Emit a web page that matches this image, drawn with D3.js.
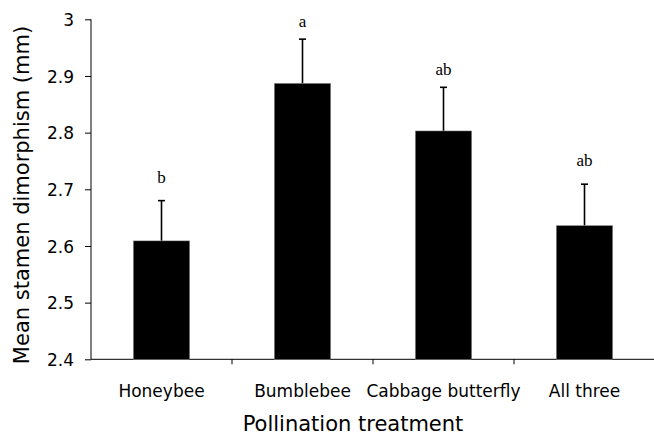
<!DOCTYPE html>
<html>
<head>
<meta charset="utf-8">
<script src="https://cdn.jsdelivr.net/npm/d3@7"></script>
<style>
  body { margin: 0; background: #fff; }
  svg { display: block; }
  .axis text { font-family: "DejaVu Sans", Verdana, sans-serif; font-size: 17px; fill: #000; }
  .axis path, .axis line { stroke: #000; stroke-width: 1px; }
  .title { font-family: "DejaVu Sans", Verdana, sans-serif; font-size: 21px; fill: #000; }
  .letter { font-family: "Liberation Serif", "Times New Roman", serif; font-size: 17px; fill: #000; }
</style>
</head>
<body>
<div id="chart"></div>
<script>
var categories = ["Honeybee", "Bumblebee", "Cabbage butterfly", "All three"]
var means = [2.609, 2.887, 2.803, 2.636]
var errors = [0.071, 0.078, 0.077, 0.073]
var letters = ["b", "a", "ab", "ab"]
// where the letters sit, in mm
var letterLevel = [2.711, 2.987, 2.902, 2.742]
var yTicks = [2.4, 2.5, 2.6, 2.7, 2.8, 2.9, 3]

var width = 654,
height = 438

var svg = d3.select("#chart")
	.append("svg")
	.attr("width", width)
	.attr("height", height)

var x = d3.scaleBand()
	.domain(categories)
	.range([91, 655])
	.paddingInner(0.6)
	.paddingOuter(0.3)

var y = d3.scaleLinear()
	.domain([2.4, 3])
	.range([359.3, 19.3])

// y axis
var yAxis = svg.append("g")
	.attr("class", "axis")
	.attr("transform", "translate(91,0)")
	.call(d3.axisLeft(y)
		.tickValues(yTicks)
		.tickSize(6)
		.tickPadding(11)
		.tickFormat(function(d) { return String(+d.toFixed(1)); }))
yAxis.select(".domain").attr("d", "M0," + y(3) + "V" + y(2.4))
yAxis.selectAll("text").attr("dy", "0.36em")

// x axis: labels under the bars, ticks between them
var xAxis = svg.append("g")
	.attr("class", "axis")
	.attr("transform", "translate(0," + y(2.4) + ")")
	.call(d3.axisBottom(x).tickSize(0).tickPadding(26))
xAxis.select(".domain").attr("d", "M91,0H654")

var gap = x.step() * x.paddingInner() / 2
xAxis.selectAll(".sep")
	.data(categories.slice(0, -1))
	.enter().append("line")
	.attr("class", "sep")
	.attr("x1", function(d) { return x(d) + x.bandwidth() + gap; })
	.attr("x2", function(d) { return x(d) + x.bandwidth() + gap; })
	.attr("y1", 0)
	.attr("y2", 5)

var rows = categories.map(function(c, i) {
	return {cat: c, mean: means[i], err: errors[i], letter: letters[i], level: letterLevel[i]}
})

// error bars (upper half only)
var eb = svg.append("g")
eb.selectAll("line.stem")
	.data(rows)
	.enter().append("line")
	.attr("class", "stem")
	.attr("x1", function(d) { return x(d.cat) + x.bandwidth() / 2; })
	.attr("x2", function(d) { return x(d.cat) + x.bandwidth() / 2; })
	.attr("y1", function(d) { return y(d.mean); })
	.attr("y2", function(d) { return y(d.mean + d.err); })
	.attr("stroke", "#000")
	.attr("stroke-width", 1.6)
eb.selectAll("line.cap")
	.data(rows)
	.enter().append("line")
	.attr("class", "cap")
	.attr("x1", function(d) { return x(d.cat) + x.bandwidth() / 2 - 3.5; })
	.attr("x2", function(d) { return x(d.cat) + x.bandwidth() / 2 + 3.5; })
	.attr("y1", function(d) { return y(d.mean + d.err); })
	.attr("y2", function(d) { return y(d.mean + d.err); })
	.attr("stroke", "#000")
	.attr("stroke-width", 1.6)

svg.append("g").selectAll("rect")
	.data(rows)
	.enter().append("rect")
	.attr("x", function(d) { return x(d.cat); })
	.attr("y", function(d) { return y(d.mean); })
	.attr("width", x.bandwidth())
	.attr("height", function(d) { return y(2.4) - y(d.mean); })
	.attr("fill", "#000")
	.attr("stroke", "#999")
	.attr("stroke-width", 0.5)

svg.append("g").selectAll("text")
	.data(rows)
	.enter().append("text")
	.attr("class", "letter")
	.attr("text-anchor", "middle")
	.attr("x", function(d) { return x(d.cat) + x.bandwidth() / 2; })
	.attr("y", function(d) { return y(d.level); })
	.text(function(d) { return d.letter; })

svg.append("text")
	.attr("class", "title")
	.attr("text-anchor", "middle")
	.attr("x", 353)
	.attr("y", 431)
	.text("Pollination treatment")

svg.append("text")
	.attr("class", "title")
	.attr("text-anchor", "middle")
	.attr("transform", "translate(29,195) rotate(-90)")
	.text("Mean stamen dimorphism (mm)")
</script>
</body>
</html>
